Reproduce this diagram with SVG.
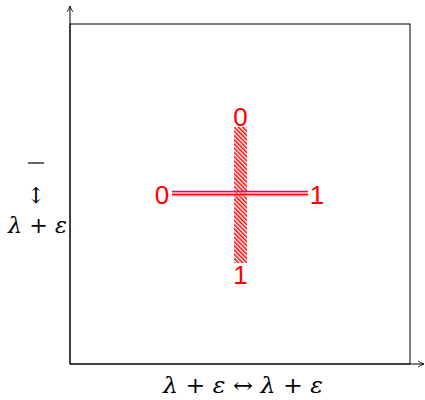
<svg xmlns="http://www.w3.org/2000/svg" width="425" height="400" viewBox="0 0 425 400">
<style>
.ax{stroke:#000;stroke-width:1;fill:none}
.lbl{font-family:"Liberation Sans",Arial,Helvetica,sans-serif;font-size:26px;fill:#ff0000;text-anchor:middle}
.math{font-family:"DejaVu Serif","Liberation Serif",serif;font-size:22px;fill:#000;text-anchor:middle}
.it{font-style:italic}
</style>
<defs>
<marker id="ah" viewBox="0 0 8 8" refX="7" refY="4" markerWidth="8" markerHeight="8" orient="auto" markerUnits="userSpaceOnUse">
<path d="M1,1 Q4,3 7,4 Q4,5 1,7" fill="none" stroke="#000" stroke-width="0.8"/>
</marker>
<pattern id="hatch" patternUnits="userSpaceOnUse" width="3" height="3" patternTransform="rotate(-45)">
<rect width="3" height="3" fill="#fff"/>
<line x1="0.75" y1="0" x2="0.75" y2="3" stroke="#ff0000" stroke-width="1.5"/>
</pattern>
</defs>
<g id="connectors">
<rect class="ax" x="70" y="24" width="340" height="340"/>
<line class="ax" x1="70" y1="364" x2="70" y2="6" marker-end="url(#ah)"/>
<line class="ax" x1="70" y1="364" x2="424" y2="364" marker-end="url(#ah)"/>
</g>
<g id="vbar">
<rect x="234" y="127" width="13" height="136" fill="url(#hatch)"/>
<text class="lbl" x="240.5" y="126">0</text>
<text class="lbl" x="240.5" y="284">1</text>
</g>
<g id="hbar">
<line x1="172" y1="191.6" x2="308" y2="191.6" stroke="#e6007e" stroke-width="1.8"/>
<line x1="172" y1="193" x2="308" y2="193" stroke="#ffb0b0" stroke-width="1"/>
<line x1="172" y1="194.6" x2="308" y2="194.6" stroke="#ff0000" stroke-width="1.8"/>
<line x1="172" y1="196" x2="308" y2="196" stroke="#ffb0b0" stroke-width="0.8"/>
<text class="lbl" x="162" y="204">0</text>
<text class="lbl" x="317" y="204">1</text>
</g>
<g id="ylabel">
<line x1="28" y1="163" x2="44" y2="163" stroke="#000" stroke-width="1.2"/>
<text class="math" x="36" y="203" font-size="26">↕</text>
<text class="math" x="37.5" y="233" textLength="59" lengthAdjust="spacingAndGlyphs"><tspan class="it">λ</tspan> + <tspan class="it">ε</tspan></text>
</g>
<g id="xlabel">
<text class="math" x="243" y="393" textLength="160" lengthAdjust="spacingAndGlyphs"><tspan class="it">λ</tspan> + <tspan class="it">ε</tspan> ↔ <tspan class="it">λ</tspan> + <tspan class="it">ε</tspan></text>
</g>
</svg>
